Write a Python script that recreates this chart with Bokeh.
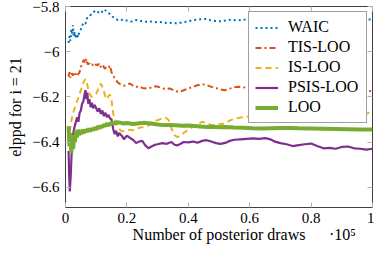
from bokeh.plotting import figure
from bokeh.models import (Range1d, FixedTicker, CustomJSTickFormatter, LinearAxis,
                          Legend, LegendItem)
from bokeh.embed import file_html
from bokeh.resources import INLINE

# ---------------- data (x = number of posterior draws) ----------------
waic_x = [1000, 1300, 1600, 1900, 2200, 2400, 2700, 3000, 3300, 3700, 4100, 4500, 5000, 5500,
          6000, 6500, 7000, 7700, 8500, 9200, 10000, 10800, 11500, 12300, 13000, 13700, 14500,
          15300, 16200, 17000, 18000, 19000, 20000, 21500, 23000, 24500, 26000, 27500, 29000,
          30500, 32000, 33500, 35000, 36500, 38000, 39500, 41000, 42500, 44000, 45500, 47000,
          48500, 50000, 51500, 53000, 54500, 56000, 58000, 60000, 63000, 66000, 70000, 75000,
          80000, 85000, 90000, 95000, 100000]
waic_y = [-5.96, -5.93, -5.95, -5.90, -5.92, -5.88, -5.93, -5.91, -5.94, -5.92, -5.935, -5.91,
          -5.90, -5.88, -5.87, -5.875, -5.85, -5.845, -5.83, -5.822, -5.815, -5.825, -5.817,
          -5.826, -5.815, -5.822, -5.832, -5.843, -5.85, -5.858, -5.855, -5.862, -5.86, -5.865,
          -5.858, -5.862, -5.866, -5.864, -5.868, -5.866, -5.87, -5.872, -5.87, -5.874, -5.868,
          -5.866, -5.86, -5.857, -5.855, -5.853, -5.858, -5.862, -5.864, -5.862, -5.857, -5.858,
          -5.86, -5.857, -5.855, -5.857, -5.86, -5.858, -5.855, -5.858, -5.856, -5.858, -5.857,
          -5.856]

tis_x = [1000, 1300, 1600, 2000, 2400, 2800, 3200, 3600, 4000, 4400, 4800, 5200, 5600, 6000,
         6400, 6800, 7200, 7700, 8200, 8700, 9300, 9900, 10500, 11000, 11600, 12200, 12800,
         13400, 14000, 14500, 15000, 15500, 16200, 17000, 18000, 19000, 20000, 21000, 22000,
         23000, 24000, 25000, 26500, 28000, 29500, 31000, 32500, 34000, 35500, 37000, 38500,
         40000, 41500, 43000, 44500, 46000, 47500, 49000, 50500, 52000, 53500, 55000, 56500,
         58000, 62000, 66000, 70000, 75000, 80000, 85000, 90000, 95000, 100000]
tis_y = [-6.11, -6.09, -6.115, -6.095, -6.105, -6.09, -6.10, -6.09, -6.10, -6.095, -6.08, -6.06,
         -6.045, -6.035, -6.05, -6.03, -6.055, -6.05, -6.06, -6.055, -6.065, -6.055, -6.06,
         -6.05, -6.07, -6.06, -6.075, -6.065, -6.07, -6.06, -6.09, -6.105, -6.12, -6.135, -6.145,
         -6.15, -6.145, -6.14, -6.15, -6.155, -6.152, -6.16, -6.162, -6.158, -6.152, -6.158,
         -6.165, -6.162, -6.172, -6.178, -6.17, -6.162, -6.155, -6.148, -6.143, -6.147, -6.155,
         -6.16, -6.167, -6.17, -6.163, -6.157, -6.155, -6.157, -6.16, -6.158, -6.16, -6.163,
         -6.165, -6.163, -6.167, -6.17, -6.174]

is_x = [1000, 1500, 2000, 2500, 3000, 3500, 4000, 4500, 5000, 5500, 6000, 6500, 7000, 7500,
        8000, 8500, 9000, 9500, 10000, 10500, 11000, 11500, 12000, 12500, 13000, 13500, 14000,
        14500, 15000, 15500, 16000, 17000, 18000, 19000, 20000, 21000, 22000, 23000, 24000,
        25000, 26500, 28000, 29500, 31000, 32500, 33500, 34500, 35500, 36500, 37500, 38500,
        40000, 41500, 43000, 44500, 46000, 47500, 49000, 50500, 52000, 53500, 55000, 57000,
        59000, 61000, 63000, 65000, 67000, 68500, 69500, 70500, 72000, 74000, 76000, 78000,
        80000, 83000, 86000, 89000, 92000, 95000, 97000, 98500, 100000]
is_y = [-6.40, -6.34, -6.30, -6.27, -6.25, -6.23, -6.21, -6.19, -6.17, -6.15, -6.13, -6.12,
        -6.14, -6.17, -6.19, -6.20, -6.195, -6.19, -6.185, -6.17, -6.15, -6.14, -6.155, -6.175,
        -6.20, -6.21, -6.195, -6.19, -6.215, -6.27, -6.30, -6.33, -6.35, -6.352, -6.35, -6.345,
        -6.348, -6.342, -6.337, -6.334, -6.33, -6.32, -6.305, -6.298, -6.292, -6.30, -6.34,
        -6.37, -6.378, -6.372, -6.36, -6.345, -6.333, -6.322, -6.31, -6.315, -6.325, -6.326,
        -6.32, -6.318, -6.305, -6.297, -6.291, -6.288, -6.284, -6.282, -6.279, -6.278, -6.28,
        -6.298, -6.305, -6.31, -6.305, -6.298, -6.296, -6.292, -6.288, -6.285, -6.283, -6.281,
        -6.278, -6.276, -6.272, -6.262]

psis_x = [1000, 1200, 1400, 1700, 2000, 2300, 2700, 3000, 3400, 3800, 4200, 4600, 5000, 5400,
          5800, 6200, 6500, 6800, 7100, 7400, 7800, 8200, 8600, 9000, 9500, 10000, 10500, 11000,
          11500, 12000, 12500, 13000, 13500, 14000, 14500, 15000, 15500, 16000, 16500, 17000,
          17500, 18000, 18500, 19000, 19500, 20000, 21000, 22000, 23000, 24000, 25000, 26000,
          27000, 28000, 29000, 30000, 31500, 33000, 34500, 35500, 36500, 37500, 38500, 40000,
          41500, 43000, 44500, 46000, 47500, 49000, 50500, 52000, 53500, 55000, 57000, 59000,
          61000, 63000, 65000, 66500, 68000, 70000, 72000, 74000, 76000, 78000, 80000, 82000,
          84000, 86000, 88000, 90000, 92000, 94000, 96000, 98000, 100000]
psis_y = [-6.44, -6.55, -6.62, -6.55, -6.45, -6.38, -6.35, -6.33, -6.31, -6.29, -6.31, -6.27,
          -6.26, -6.23, -6.22, -6.19, -6.17, -6.21, -6.18, -6.23, -6.21, -6.245, -6.225, -6.25,
          -6.235, -6.25, -6.265, -6.25, -6.275, -6.26, -6.285, -6.27, -6.29, -6.28, -6.295,
          -6.30, -6.34, -6.365, -6.35, -6.375, -6.36, -6.368, -6.375, -6.388, -6.38, -6.372,
          -6.382, -6.39, -6.405, -6.398, -6.395, -6.415, -6.428, -6.42, -6.413, -6.41, -6.405,
          -6.408, -6.40, -6.412, -6.415, -6.408, -6.40, -6.402, -6.398, -6.403, -6.395, -6.392,
          -6.398, -6.405, -6.408, -6.404, -6.395, -6.39, -6.388, -6.386, -6.384, -6.386, -6.383,
          -6.387, -6.397, -6.405, -6.41, -6.418, -6.414, -6.41, -6.407, -6.418, -6.428, -6.426,
          -6.43, -6.422, -6.42, -6.428, -6.43, -6.434, -6.43]

loo_x = [1000, 1300, 1600, 1900, 2200, 2500, 2800, 3100, 3400, 3700, 4000, 4400, 4800, 5200,
         5600, 6000, 6500, 7000, 7500, 8000, 8500, 9000, 9500, 10000, 10500, 11000, 11500,
         12000, 12500, 13000, 13500, 14000, 15000, 16000, 17000, 18000, 19000, 20000, 22000,
         24000, 26000, 28000, 30000, 32000, 34000, 36000, 38000, 40000, 42000, 44000, 46000,
         48000, 50000, 52000, 55000, 58000, 61000, 64000, 67000, 70000, 73000, 76000, 80000,
         84000, 88000, 92000, 96000, 100000]
loo_y = [-6.33, -6.42, -6.36, -6.45, -6.38, -6.43, -6.37, -6.40, -6.35, -6.38, -6.345, -6.37,
         -6.35, -6.365, -6.345, -6.36, -6.345, -6.355, -6.34, -6.352, -6.34, -6.348, -6.335,
         -6.345, -6.33, -6.34, -6.328, -6.335, -6.322, -6.33, -6.318, -6.325, -6.315, -6.318,
         -6.312, -6.315, -6.318, -6.316, -6.32, -6.317, -6.315, -6.318, -6.322, -6.325, -6.324,
         -6.326, -6.328, -6.327, -6.329, -6.331, -6.333, -6.332, -6.334, -6.333, -6.336, -6.337,
         -6.339, -6.34, -6.339, -6.338, -6.338, -6.339, -6.34, -6.341, -6.342, -6.343, -6.344,
         -6.345]

x_ticks = [0, 20000, 40000, 60000, 80000, 100000]
y_ticks = [-6.6, -6.4, -6.2, -6.0, -5.8]
x_title = "Number of posterior draws"
x_scale_note = "\u00b710\u2075"
y_title = "elppd for i = 21"

FONT = "Liberation Serif"
FS = "15px"
FS_BIG = "16px"
TICK_COL = "#b3b3b3"
FRAME_COL = "#404040"

p = figure(width=374, height=245, output_backend="svg", toolbar_location=None,
           x_range=Range1d(0, 100000), y_range=Range1d(-6.691, -5.798),
           min_border_left=65, min_border_right=2, min_border_top=6, min_border_bottom=5)
p.background_fill_color = "white"
p.border_fill_color = "white"
p.outline_line_color = FRAME_COL
p.outline_line_width = 1
p.xgrid.visible = False
p.ygrid.visible = False

xfmt = CustomJSTickFormatter(code="return (tick/100000).toString();")
yfmt = CustomJSTickFormatter(code="return (tick < 0 ? '\\u2212' : '') + Math.abs(tick).toString();")
blank = CustomJSTickFormatter(code="return '';")

def style_axis(ax, ticks, fmt, size=FS):
    ax.ticker = FixedTicker(ticks=ticks)
    ax.formatter = fmt
    ax.major_tick_in = 5
    ax.major_tick_out = 0
    ax.minor_tick_line_color = None
    ax.major_tick_line_color = TICK_COL
    ax.axis_line_color = None
    ax.major_label_text_font = FONT
    ax.major_label_text_font_size = size
    ax.major_label_text_color = "black"
    ax.axis_label_text_font = FONT
    ax.axis_label_text_font_size = FS_BIG
    ax.axis_label_text_font_style = "normal"
    ax.axis_label_text_color = "black"

main_x = p.xaxis[0]
style_axis(main_x, x_ticks, xfmt)
style_axis(p.yaxis[0], y_ticks, yfmt)
main_x.major_label_standoff = 5
p.yaxis[0].axis_label = y_title
p.yaxis[0].major_label_standoff = 6
p.yaxis[0].axis_label_standoff = 5

# second row below the x tick labels: axis title and the x10^5 scale note
ax_note = LinearAxis()
style_axis(ax_note, [50000, 90200], CustomJSTickFormatter(
    args=dict(t=x_title, n=x_scale_note), code="return tick < 70000 ? t : n;"), FS_BIG)
ax_note.major_tick_line_color = None
ax_note.major_tick_in = 0
ax_note.major_label_standoff = 0
p.below = [main_x, ax_note]

ax_r = LinearAxis()
style_axis(ax_r, y_ticks, blank)
ax_r.major_label_standoff = 0
p.add_layout(ax_r, "right")
ax_t = LinearAxis()
style_axis(ax_t, x_ticks, blank)
ax_t.major_label_standoff = 0
p.add_layout(ax_t, "above")

r_waic = p.line(waic_x, waic_y, line_color="#0072BD", line_width=2, line_dash="2 3")
r_tis = p.line(tis_x, tis_y, line_color="#D95319", line_width=2, line_dash="6 3 2 3")
r_is = p.line(is_x, is_y, line_color="#EDB120", line_width=2, line_dash="6 4")
r_psis = p.line(psis_x, psis_y, line_color="#7E2F8E", line_width=2.2)
r_loo = p.line(loo_x, loo_y, line_color="#77AC30", line_width=4)

legend = Legend(items=[LegendItem(label="WAIC", renderers=[r_waic]),
                       LegendItem(label="TIS-LOO", renderers=[r_tis]),
                       LegendItem(label="IS-LOO", renderers=[r_is]),
                       LegendItem(label="PSIS-LOO", renderers=[r_psis]),
                       LegendItem(label="LOO", renderers=[r_loo])],
                location="top_right")
legend.label_text_font = FONT
legend.label_text_font_size = FS_BIG
legend.label_text_color = "black"
legend.label_height = 17
legend.glyph_height = 17
legend.glyph_width = 23
legend.label_width = 72
legend.label_standoff = 10
legend.spacing = 2
legend.padding = 6
legend.margin = 5
legend.border_line_color = FRAME_COL
legend.border_line_width = 1
legend.background_fill_color = "white"
legend.background_fill_alpha = 1
p.add_layout(legend, "center")

open("out.html", "w").write(file_html(p, INLINE))
